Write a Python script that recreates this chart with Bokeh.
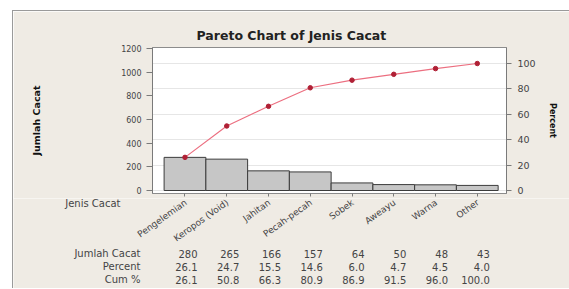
from bokeh.plotting import figure
from bokeh.models import (Range1d, LinearAxis, FixedTicker, Grid, Title,
                          ColumnDataSource)
from bokeh.layouts import column
from bokeh.core.properties import value
from bokeh.embed import file_html
from bokeh.resources import INLINE

# ---- data ----
categories = ["Pengelemian", "Keropos (Void)", "Jahitan", "Pecah-pecah",
              "Sobek", "Aweayu", "Warna", "Other"]
counts = [280, 265, 166, 157, 64, 50, 48, 43]
percent = [26.1, 24.7, 15.5, 14.6, 6.0, 4.7, 4.5, 4.0]
cum_pct = [26.1, 50.8, 66.3, 80.9, 86.9, 91.5, 96.0, 100.0]
left_ticks = [0, 200, 400, 600, 800, 1000, 1200]
right_ticks = [0, 20, 40, 60, 80, 100]
row_names = ["Jumlah Cacat", "Percent", "Cum %"]
category_header = "Jenis Cacat"

total = sum(counts)
idx = list(range(len(categories)))

FONT = "DejaVu Sans"
BG = "#efebe4"
TXT = "#444444"
AX = "#7a7a7a"
W = 556

# ---------------- main chart ----------------
y_start, y_end = -25.35, 1208.45
pct_start, pct_end = y_start / total * 100, y_end / total * 100

pa = figure(width=W, height=187, output_backend="svg", toolbar_location=None,
            x_range=Range1d(-0.778, 7.70), y_range=Range1d(y_start, y_end),
            min_border_left=139, min_border_right=W - 493, min_border_top=36,
            min_border_bottom=5)
pa.border_fill_color = BG
pa.background_fill_color = "white"
pa.outline_line_color = "#8c8c8c"
pa.ygrid.visible = False
pa.xgrid.visible = False

pa.title = Title(text="Pareto Chart of Jenis Cacat", align="left", offset=44,
                 text_font=FONT, text_font_style="bold", text_font_size="12.5px",
                 text_color="#222222", standoff=9)

pa.extra_y_ranges = {"pct": Range1d(pct_start, pct_end)}
pa.add_layout(Grid(dimension=1, y_range_name="pct",
                   ticker=FixedTicker(ticks=right_ticks),
                   grid_line_color="#e6e6e6", grid_line_width=1))

# bottom axis: tick marks only (names are drawn in the panel below)
xa = pa.xaxis[0]
xa.ticker = FixedTicker(ticks=idx)
xa.major_label_overrides = {i: "" for i in idx}
xa.major_label_text_font_size = "1px"
xa.major_label_standoff = 0
xa.axis_line_color = None
xa.major_tick_line_color = AX
xa.major_tick_in = 0
xa.major_tick_out = 3
xa.minor_tick_line_color = None

ya = pa.yaxis[0]
ya.ticker = FixedTicker(ticks=left_ticks)
ya.axis_label = "Jumlah Cacat"
ya.axis_label_text_font = FONT
ya.axis_label_text_font_style = "bold"
ya.axis_label_text_font_size = "9.5px"
ya.axis_label_text_color = "#111111"
ya.axis_label_standoff = 76
ya.major_label_text_font = FONT
ya.major_label_text_font_size = "8px"
ya.major_label_text_color = TXT
ya.axis_line_color = AX
ya.major_tick_line_color = AX
ya.major_tick_in = 0
ya.major_tick_out = 6
ya.minor_tick_line_color = None
ya.major_label_standoff = 5

ra = LinearAxis(y_range_name="pct", ticker=FixedTicker(ticks=right_ticks))
ra.axis_label = "Percent"
ra.axis_label_text_font = FONT
ra.axis_label_text_font_style = "bold"
ra.axis_label_text_font_size = "8px"
ra.axis_label_text_color = "#111111"
ra.axis_label_standoff = 9
ra.major_label_text_font = FONT
ra.major_label_text_font_size = "9.5px"
ra.major_label_text_color = TXT
ra.axis_line_color = AX
ra.major_tick_line_color = AX
ra.major_tick_in = 0
ra.major_tick_out = 5
ra.minor_tick_line_color = None
ra.major_label_standoff = 6
pa.add_layout(ra, "right")

pa.vbar(x=idx, top=counts, width=1.0, bottom=0, fill_color="#c6c6c6",
        line_color="#3c3c3c", line_width=1)
pa.line(idx, cum_pct, y_range_name="pct", line_color="#ec6f80", line_width=1.2)
pa.scatter(idx, cum_pct, y_range_name="pct", size=4.5, marker="circle",
           fill_color="#b02035", line_color="#b02035")

# ---------------- category labels + table ----------------
pb = figure(width=W, height=90, output_backend="svg", toolbar_location=None,
            x_range=Range1d(-4.108, 9.21), y_range=Range1d(-95, -5),
            x_axis_location=None, y_axis_location=None,
            min_border_left=0, min_border_right=0, min_border_top=0,
            min_border_bottom=0)
pb.border_fill_color = BG
pb.background_fill_color = BG
pb.outline_line_color = None
pb.grid.visible = False

# rotated category names
pb.text(x=[i + 0.02 for i in idx], y=[-8] * len(idx), text=categories,
        angle=0.62, text_align="right", text_baseline="middle",
        text_font=value(FONT), text_font_size="9px", text_color=TXT)

# header
pb.text(x=[-1.545], y=[-9.5], text=[category_header], text_align="right",
        text_baseline="middle", text_font=value(FONT), text_font_size="10px",
        text_color=TXT)

row_y = [-60, -73, -86]
pb.text(x=[-1.066] * 3, y=row_y, text=row_names, text_align="right",
        text_baseline="middle", text_font=value(FONT), text_font_size="10px",
        text_color=TXT)

rows = [[str(c) for c in counts], [f"{v:.1f}" for v in percent],
        [f"{v:.1f}" for v in cum_pct]]
for vals, yy in zip(rows, row_y):
    src = ColumnDataSource(dict(x=[i + 0.3 for i in idx], y=[yy] * len(idx), t=vals))
    pb.text(x="x", y="y", text="t", source=src, text_align="right",
            text_baseline="middle", text_font=value(FONT), text_font_size="10px",
            text_color=TXT)

layout = column(pa, column(pb), spacing=0, margin=(10, 0, 0, 12),
                styles={"border-left": "1px solid #9a9a9a",
                        "border-top": "1px solid #9a9a9a"})

open("out.html", "w").write(file_html(layout, INLINE))
